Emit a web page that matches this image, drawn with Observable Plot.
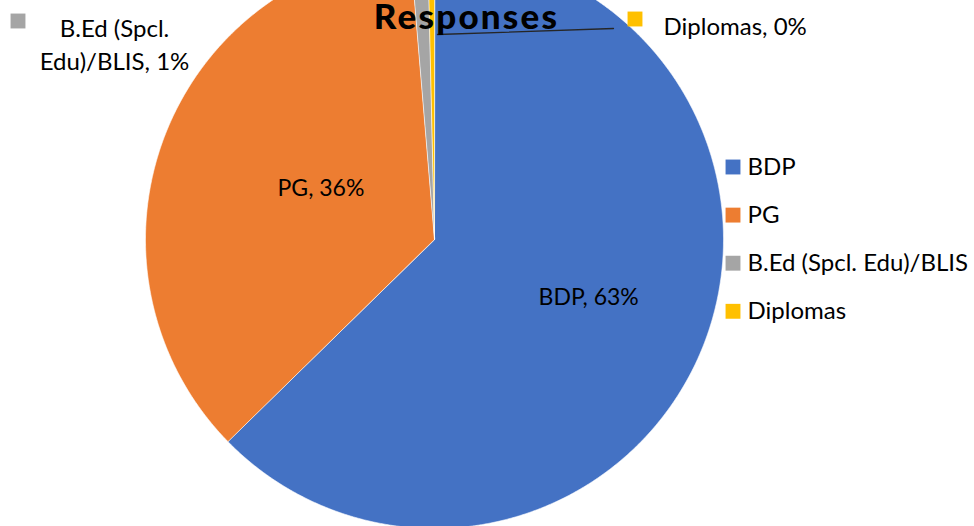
<!DOCTYPE html>
<html><head><meta charset="utf-8">
<script src="https://cdn.jsdelivr.net/npm/d3@7"></script>
<script src="https://cdn.jsdelivr.net/npm/@observablehq/plot@0.6"></script>
<style>
body{margin:0;background:#fff;}
#chart{width:974px;height:526px;overflow:hidden;}
</style>
</head><body><div id="chart"></div>
<script>
// ---- data ----
const categories = ["BDP", "PG", "B.Ed (Spcl. Edu)/BLIS", "Diplomas"];
const shares = [62.67, 36.0, 0.96, 0.37];
const colors = ["#4472C4", "#ED7D31", "#A5A5A5", "#FFC000"];
const title = "Responses";

// ---- layout ----
const W = 974, H = 526, CX = 434, CY = 239, R = 289;
const FONT = "Lato, 'Open Sans', sans-serif";

const arcs = d3.pie().sort(null).value(d => d.v)(categories.map((c, i) => ({c, v: shares[i]})));

// wedge outlines from the pie angles
const wedgePts = [];
arcs.forEach(a => {
  const n = Math.max(4, Math.ceil((a.endAngle - a.startAngle) / 0.004));
  wedgePts.push({c: a.data.c, x: CX, y: CY});
  for (let k = 0; k <= n; k++) {
    const t = a.startAngle + (a.endAngle - a.startAngle) * k / n;
    wedgePts.push({c: a.data.c, x: CX + R * Math.sin(t), y: CY - R * Math.cos(t)});
  }
});

const pct = v => `${Math.round(v)}%`;
// inner data labels: radial fraction and angle tweak (degrees)
const innerLayout = {"BDP": {rf: 0.57, da: -2.2}, "PG": {rf: 0.43, da: 3.6}};
const innerLabels = arcs.filter(a => innerLayout[a.data.c]).map(a => {
  const L = innerLayout[a.data.c];
  const t = (a.startAngle + a.endAngle) / 2 + L.da * Math.PI / 180;
  return {text: `${a.data.c}, ${pct(a.data.v)}`, x: CX + L.rf * R * Math.sin(t), y: CY - L.rf * R * Math.cos(t)};
});

// outer (callout) labels with their key squares
const outerLayout = {
  "B.Ed (Spcl. Edu)/BLIS": {kx: 17.5, ky: 20.5, tx: 114, ty: 13, anchor: "middle"},
  "Diplomas": {kx: 634.5, ky: 18.5, tx: 663, ty: 11, anchor: "start"}
};
const outerLabels = arcs.filter(a => outerLayout[a.data.c]).map(a => ({
  c: a.data.c,
  text: a.data.c === "B.Ed (Spcl. Edu)/BLIS" ? `B.Ed (Spcl.\nEdu)/BLIS, ${pct(a.data.v)}` : `${a.data.c}, ${pct(a.data.v)}`,
  ...outerLayout[a.data.c]
}));

// legend
const legend = categories.map((c, i) => ({c, x: 732.5, y: 166.5 + i * 48.1}));

const leader = [{x: 613, y: 28}, {x: 437, y: 34}];

const outerText = anchor => Plot.text(outerLabels.filter(d => d.anchor === anchor), {
  x: "tx", y: "ty", text: "text", textAnchor: anchor, fontSize: 24, lineHeight: 1.375, lineAnchor: "top", fill: "#000"
});

const chart = Plot.plot({
  width: W, height: H,
  margin: 0,
  x: {domain: [0, W], range: [0, W], axis: null},
  y: {domain: [0, H], range: [0, H], axis: null},
  color: {domain: categories, range: colors},
  style: {fontFamily: FONT, background: "#fff", overflow: "hidden"},
  marks: [
    Plot.line(wedgePts, {x: "x", y: "y", z: "c", fill: "c", stroke: "#fff", strokeWidth: 0.6, curve: "linear-closed"}),
    Plot.text(innerLabels, {x: "x", y: "y", text: "text", fontSize: 23, fill: "#000", textAnchor: "middle", lineAnchor: "middle"}),
    Plot.line(leader, {x: "x", y: "y", stroke: "#262626", strokeWidth: 1.3}),
    Plot.dot(outerLabels, {x: "kx", y: "ky", symbol: "square", r: 8.4, fill: "c", stroke: null}),
    outerText("middle"),
    outerText("start"),
    Plot.text([title], {x: 466, y: 3.5, text: d => d, fontSize: 35, fontWeight: 900, lineAnchor: "top", fill: "#000"}),
    Plot.dot(legend, {x: "x", y: "y", symbol: "square", r: 8.4, fill: "c", stroke: null}),
    Plot.text(legend, {x: d => d.x + 14.5, y: "y", text: "c", textAnchor: "start", lineAnchor: "middle", fontSize: 24, fill: "#000"})
  ]
});
document.getElementById("chart").append(chart);
// widen the title's letter spacing to match the reference typeface
chart.querySelectorAll("text").forEach(t => {
  if (t.textContent === title) t.style.letterSpacing = "2.2px";
});
</script>
</body></html>
